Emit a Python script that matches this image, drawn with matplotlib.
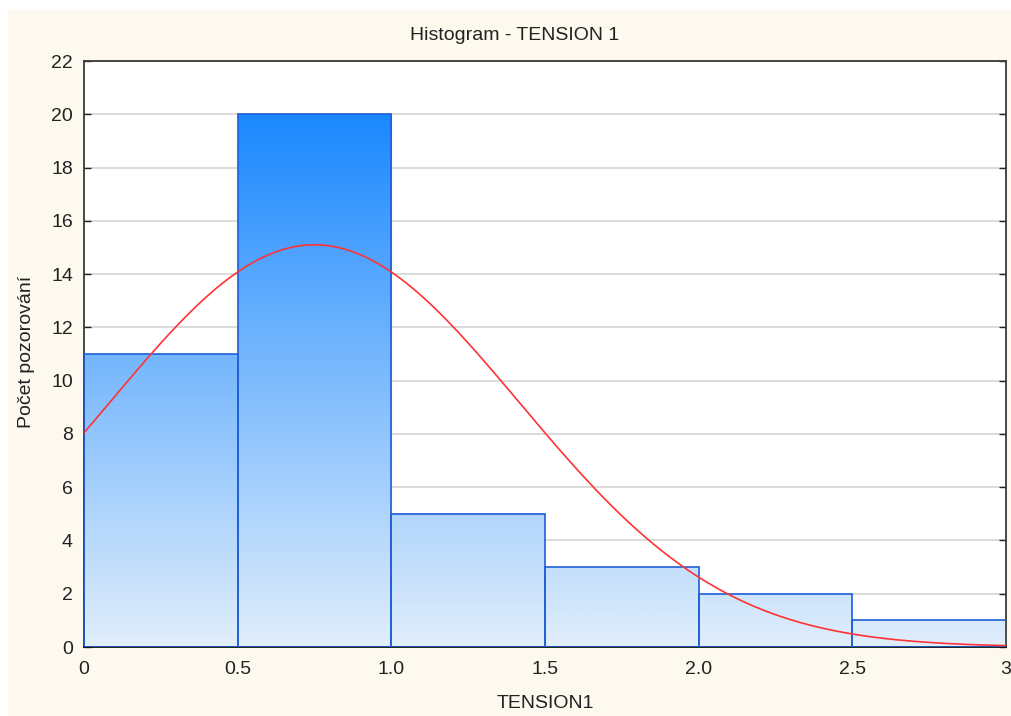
import numpy as np
import matplotlib
matplotlib.use("Agg")
import matplotlib.pyplot as plt
from matplotlib.colors import LinearSegmentedColormap
from matplotlib.patches import Rectangle

# ---- data ----
bin_edges = [0.0, 0.5, 1.0, 1.5, 2.0, 2.5, 3.0]
counts = [11, 20, 5, 3, 2, 1]
# fitted normal curve parameters
fit_mean = 0.75
fit_sd = 0.668
fit_peak = 15.1
x_ticks = [0, 0.5, 1.0, 1.5, 2.0, 2.5, 3]
x_tick_labels = ["0", "0.5", "1.0", "1.5", "2.0", "2.5", "3"]
y_ticks = list(range(0, 23, 2))
title = "Histogram - TENSION 1"
xlabel = "TENSION1"
ylabel = "Počet pozorování"

plt.rcParams['font.family'] = ['Liberation Sans', 'DejaVu Sans']

W, H = 1012, 716
fig = plt.figure(figsize=(W / 100, H / 100), dpi=100, facecolor='white')
# cream panel
fig.patches.append(Rectangle((8 / W, 0), 1 - 8 / W, 1 - 10 / H, transform=fig.transFigure,
                             facecolor='#fdf9ef', edgecolor='none', zorder=-10))

ax = fig.add_axes([84 / W, (H - 647) / H, (1006 - 84) / W, (647 - 61) / H])
ax.set_facecolor('white')
ax.set_xlim(0, 3)
ax.set_ylim(0, 22)

cmap = LinearSegmentedColormap.from_list('grad', ['#e1eefc', '#1a88ff'])
vmax = max(counts)
lefts = bin_edges[:-1]
widths = [b - a for a, b in zip(bin_edges[:-1], bin_edges[1:])]
for l, w, c in zip(lefts, widths, counts):
    grad = np.linspace(0, c, 256).reshape(-1, 1)
    ax.imshow(grad, extent=[l, l + w, 0, c], origin='lower', aspect='auto',
              cmap=cmap, vmin=0, vmax=vmax, zorder=2, interpolation='bilinear')
ax.bar(lefts, counts, width=widths, align='edge', fill=False,
       edgecolor='#1f5fd6', linewidth=1.2, zorder=3)

xs = np.linspace(0, 3, 400)
ys = fit_peak * np.exp(-0.5 * ((xs - fit_mean) / fit_sd) ** 2)
ax.plot(xs, ys, color='#ff3333', linewidth=1.2, zorder=4)

ax.set_xlim(0, 3)
ax.set_ylim(0, 22)
ax.set_yticks(y_ticks)
ax.set_xticks(x_ticks)
ax.set_xticklabels(x_tick_labels)
ax.grid(axis='y', color='#d8d8d8', linewidth=1.3, zorder=1)
ax.set_axisbelow(True)
ax.tick_params(axis='y', direction='in', length=5, width=1, pad=8, labelsize=14,
               right=True, colors='#222222', labelcolor='#222222')
ax.tick_params(axis='x', length=0, pad=10, labelsize=14, labelcolor='#222222')
for s in ax.spines.values():
    s.set_color('#3a3a3a')
    s.set_linewidth(1.3)
ax.spines['bottom'].set_color('#111111')

fig.text(515 / W, 1 - 35 / H, title, ha='center', va='center', fontsize=14, color='#222222')
fig.text(545 / W, 1 - 703 / H, xlabel, ha='center', va='center', fontsize=14, color='#222222')
fig.text(27 / W, 1 - 352 / H, ylabel, ha='center', va='center', rotation=90, fontsize=14,
         color='#222222')

fig.savefig('out.png', dpi=100, facecolor=fig.get_facecolor())
